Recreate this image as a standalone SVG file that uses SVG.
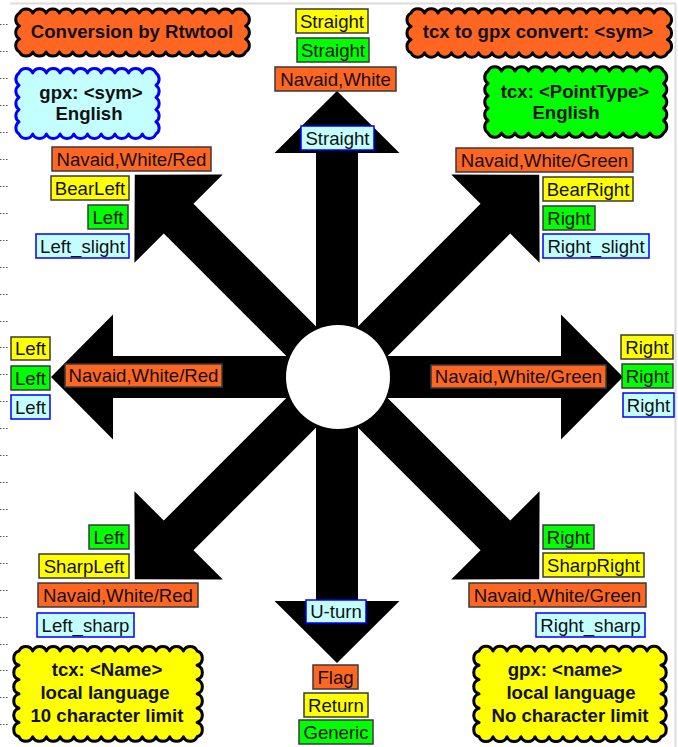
<svg xmlns="http://www.w3.org/2000/svg" width="678" height="747" viewBox="0 0 678 747">
<style>
.bx{stroke:#3a3a3a;stroke-width:1.5}
.o{fill:#FF6622}
.y{fill:#FFFF00}
.g{fill:#00FF00}
.c{fill:#C4FFFF;stroke:#0000FF}
.t{font-family:"Liberation Sans",Arial,sans-serif;font-size:18.6px;text-anchor:middle;fill:#111}
.ct{font-family:"Liberation Sans",Arial,sans-serif;font-size:18.6px;font-weight:bold;text-anchor:middle;fill:#111}
.cl{stroke:#000;stroke-width:3;stroke-linejoin:round}
</style>
<defs>
<path id="arr" d="M-21,0V-224H-62.5L0,-286L62.5,-224H21V0Z" fill="#000"/>
</defs>
<rect width="678" height="747" fill="#fff"/>
<g id="frame" fill="none">
<path d="M10,3.5H675.5V747" stroke="#dcdcdc" stroke-width="2"/>
<path d="M0,24.5H9M0,51.5H9M0,78.5H9M0,105.5H9M0,132.5H9M0,159.5H9M0,186.5H9M0,213.5H9M0,240.5H9M0,267.5H9M0,294.5H9M0,321.5H9M0,347.5H9M0,374.5H9M0,401.5H9M0,428.5H9M0,455.5H9M0,482.5H9M0,509.5H9M0,536.5H9M0,563.5H9M0,590.5H9M0,617.5H9M0,644.5H9M0,670.5H9M0,697.5H9M0,724.5H9" stroke="#555" stroke-width="1" stroke-dasharray="1.5 1.5"/>
</g>
<g id="connectors">
<use href="#arr" transform="translate(337,377)"/>
<use href="#arr" transform="translate(337,377) rotate(45)"/>
<use href="#arr" transform="translate(337,377) rotate(90)"/>
<use href="#arr" transform="translate(337,377) rotate(135)"/>
<use href="#arr" transform="translate(337,377) rotate(180)"/>
<use href="#arr" transform="translate(337,377) rotate(225)"/>
<use href="#arr" transform="translate(337,377) rotate(270)"/>
<use href="#arr" transform="translate(337,377) rotate(315)"/>
</g>
<g id="hub"><circle cx="338" cy="377" r="52" fill="#fff"/></g>

<g id="cloud-conversion">
<path class="cl" fill="#FF6622" d="M19.5,13a7.5 7.5 0 0 1 13.3 0a7.5 7.5 0 0 1 13.3 0a7.5 7.5 0 0 1 13.3 0a7.5 7.5 0 0 1 13.3 0a7.5 7.5 0 0 1 13.3 0a7.5 7.5 0 0 1 13.3 0a7.5 7.5 0 0 1 13.3 0a7.5 7.5 0 0 1 13.3 0a7.5 7.5 0 0 1 13.3 0a7.5 7.5 0 0 1 13.3 0a7.5 7.5 0 0 1 13.3 0a7.5 7.5 0 0 1 13.3 0a7.5 7.5 0 0 1 13.3 0a7.5 7.5 0 0 1 13.3 0a7.5 7.5 0 0 1 13.3 0a7.5 7.5 0 0 1 13.3 0a7.5 7.5 0 0 1 13.3 0a7.5 7.5 0 0 1 0 13a7.5 7.5 0 0 1 0 13a7.5 7.5 0 0 1 0 13a7.5 7.5 0 0 1 -13.3 0a7.5 7.5 0 0 1 -13.3 0a7.5 7.5 0 0 1 -13.3 0a7.5 7.5 0 0 1 -13.3 0a7.5 7.5 0 0 1 -13.3 0a7.5 7.5 0 0 1 -13.3 0a7.5 7.5 0 0 1 -13.3 0a7.5 7.5 0 0 1 -13.3 0a7.5 7.5 0 0 1 -13.3 0a7.5 7.5 0 0 1 -13.3 0a7.5 7.5 0 0 1 -13.3 0a7.5 7.5 0 0 1 -13.3 0a7.5 7.5 0 0 1 -13.3 0a7.5 7.5 0 0 1 -13.3 0a7.5 7.5 0 0 1 -13.3 0a7.5 7.5 0 0 1 -13.3 0a7.5 7.5 0 0 1 -13.3 0a7.5 7.5 0 0 1 0 -13a7.5 7.5 0 0 1 0 -13a7.5 7.5 0 0 1 0 -13Z"/>
<text class="ct" x="132" y="38">Conversion by Rtwtool</text>
</g>

<g id="cloud-gpx-sym">
<path class="cl" fill="#C4FFFF" style="stroke:#0000FF" d="M19,73a7.5 7.5 0 0 1 13.7 0a7.5 7.5 0 0 1 13.7 0a7.5 7.5 0 0 1 13.7 0a7.5 7.5 0 0 1 13.7 0a7.5 7.5 0 0 1 13.7 0a7.5 7.5 0 0 1 13.7 0a7.5 7.5 0 0 1 13.7 0a7.5 7.5 0 0 1 13.7 0a7.5 7.5 0 0 1 13.7 0a7.5 7.5 0 0 1 13.7 0a7.5 7.5 0 0 1 0 12.2a7.5 7.5 0 0 1 0 12.2a7.5 7.5 0 0 1 0 12.2a7.5 7.5 0 0 1 0 12.2a7.5 7.5 0 0 1 0 12.2a7.5 7.5 0 0 1 -13.7 0a7.5 7.5 0 0 1 -13.7 0a7.5 7.5 0 0 1 -13.7 0a7.5 7.5 0 0 1 -13.7 0a7.5 7.5 0 0 1 -13.7 0a7.5 7.5 0 0 1 -13.7 0a7.5 7.5 0 0 1 -13.7 0a7.5 7.5 0 0 1 -13.7 0a7.5 7.5 0 0 1 -13.7 0a7.5 7.5 0 0 1 -13.7 0a7.5 7.5 0 0 1 0 -12.2a7.5 7.5 0 0 1 0 -12.2a7.5 7.5 0 0 1 0 -12.2a7.5 7.5 0 0 1 0 -12.2a7.5 7.5 0 0 1 0 -12.2Z"/>
<text class="ct" x="91" y="99">gpx: &lt;sym&gt;</text>
<text class="ct" x="89" y="120">English</text>
</g>

<g id="cloud-tcx-to-gpx">
<path class="cl" fill="#FF6622" d="M411,13a7.5 7.5 0 0 1 13.5 0a7.5 7.5 0 0 1 13.5 0a7.5 7.5 0 0 1 13.5 0a7.5 7.5 0 0 1 13.5 0a7.5 7.5 0 0 1 13.5 0a7.5 7.5 0 0 1 13.5 0a7.5 7.5 0 0 1 13.5 0a7.5 7.5 0 0 1 13.5 0a7.5 7.5 0 0 1 13.5 0a7.5 7.5 0 0 1 13.5 0a7.5 7.5 0 0 1 13.5 0a7.5 7.5 0 0 1 13.5 0a7.5 7.5 0 0 1 13.5 0a7.5 7.5 0 0 1 13.5 0a7.5 7.5 0 0 1 13.5 0a7.5 7.5 0 0 1 13.5 0a7.5 7.5 0 0 1 13.5 0a7.5 7.5 0 0 1 13.5 0a7.5 7.5 0 0 1 13.5 0a7.5 7.5 0 0 1 0 13.3a7.5 7.5 0 0 1 0 13.3a7.5 7.5 0 0 1 0 13.3a7.5 7.5 0 0 1 -13.5 0a7.5 7.5 0 0 1 -13.5 0a7.5 7.5 0 0 1 -13.5 0a7.5 7.5 0 0 1 -13.5 0a7.5 7.5 0 0 1 -13.5 0a7.5 7.5 0 0 1 -13.5 0a7.5 7.5 0 0 1 -13.5 0a7.5 7.5 0 0 1 -13.5 0a7.5 7.5 0 0 1 -13.5 0a7.5 7.5 0 0 1 -13.5 0a7.5 7.5 0 0 1 -13.5 0a7.5 7.5 0 0 1 -13.5 0a7.5 7.5 0 0 1 -13.5 0a7.5 7.5 0 0 1 -13.5 0a7.5 7.5 0 0 1 -13.5 0a7.5 7.5 0 0 1 -13.5 0a7.5 7.5 0 0 1 -13.5 0a7.5 7.5 0 0 1 -13.5 0a7.5 7.5 0 0 1 -13.5 0a7.5 7.5 0 0 1 0 -13.3a7.5 7.5 0 0 1 0 -13.3a7.5 7.5 0 0 1 0 -13.3Z"/>
<text class="ct" x="538" y="38">tcx to gpx convert: &lt;sym&gt;</text>
</g>

<g id="cloud-tcx-pointtype">
<path class="cl" fill="#00FF00" d="M488,71a7.5 7.5 0 0 1 13.5 0a7.5 7.5 0 0 1 13.5 0a7.5 7.5 0 0 1 13.5 0a7.5 7.5 0 0 1 13.5 0a7.5 7.5 0 0 1 13.5 0a7.5 7.5 0 0 1 13.5 0a7.5 7.5 0 0 1 13.5 0a7.5 7.5 0 0 1 13.5 0a7.5 7.5 0 0 1 13.5 0a7.5 7.5 0 0 1 13.5 0a7.5 7.5 0 0 1 13.5 0a7.5 7.5 0 0 1 13.5 0a7.5 7.5 0 0 1 13.5 0a7.5 7.5 0 0 1 0 12.4a7.5 7.5 0 0 1 0 12.4a7.5 7.5 0 0 1 0 12.4a7.5 7.5 0 0 1 0 12.4a7.5 7.5 0 0 1 0 12.4a7.5 7.5 0 0 1 -13.5 0a7.5 7.5 0 0 1 -13.5 0a7.5 7.5 0 0 1 -13.5 0a7.5 7.5 0 0 1 -13.5 0a7.5 7.5 0 0 1 -13.5 0a7.5 7.5 0 0 1 -13.5 0a7.5 7.5 0 0 1 -13.5 0a7.5 7.5 0 0 1 -13.5 0a7.5 7.5 0 0 1 -13.5 0a7.5 7.5 0 0 1 -13.5 0a7.5 7.5 0 0 1 -13.5 0a7.5 7.5 0 0 1 -13.5 0a7.5 7.5 0 0 1 -13.5 0a7.5 7.5 0 0 1 0 -12.4a7.5 7.5 0 0 1 0 -12.4a7.5 7.5 0 0 1 0 -12.4a7.5 7.5 0 0 1 0 -12.4a7.5 7.5 0 0 1 0 -12.4Z"/>
<text class="ct" x="575" y="98">tcx: &lt;PointType&gt;</text>
<text class="ct" x="566" y="119">English</text>
</g>

<g id="cloud-tcx-name">
<path class="cl" fill="#FFFF00" d="M19,651a7.5 7.5 0 0 1 13.7 0a7.5 7.5 0 0 1 13.7 0a7.5 7.5 0 0 1 13.7 0a7.5 7.5 0 0 1 13.7 0a7.5 7.5 0 0 1 13.7 0a7.5 7.5 0 0 1 13.7 0a7.5 7.5 0 0 1 13.7 0a7.5 7.5 0 0 1 13.7 0a7.5 7.5 0 0 1 13.7 0a7.5 7.5 0 0 1 13.7 0a7.5 7.5 0 0 1 13.7 0a7.5 7.5 0 0 1 13.7 0a7.5 7.5 0 0 1 13.7 0a7.5 7.5 0 0 1 0 14.3a7.5 7.5 0 0 1 0 14.3a7.5 7.5 0 0 1 0 14.3a7.5 7.5 0 0 1 0 14.3a7.5 7.5 0 0 1 0 14.3a7.5 7.5 0 0 1 0 14.3a7.5 7.5 0 0 1 -13.7 0a7.5 7.5 0 0 1 -13.7 0a7.5 7.5 0 0 1 -13.7 0a7.5 7.5 0 0 1 -13.7 0a7.5 7.5 0 0 1 -13.7 0a7.5 7.5 0 0 1 -13.7 0a7.5 7.5 0 0 1 -13.7 0a7.5 7.5 0 0 1 -13.7 0a7.5 7.5 0 0 1 -13.7 0a7.5 7.5 0 0 1 -13.7 0a7.5 7.5 0 0 1 -13.7 0a7.5 7.5 0 0 1 -13.7 0a7.5 7.5 0 0 1 -13.7 0a7.5 7.5 0 0 1 0 -14.3a7.5 7.5 0 0 1 0 -14.3a7.5 7.5 0 0 1 0 -14.3a7.5 7.5 0 0 1 0 -14.3a7.5 7.5 0 0 1 0 -14.3a7.5 7.5 0 0 1 0 -14.3Z"/>
<text class="ct" x="107" y="676">tcx: &lt;Name&gt;</text>
<text class="ct" x="105" y="699">local language</text>
<text class="ct" x="107" y="722">10 character limit</text>
</g>

<g id="cloud-gpx-name">
<path class="cl" fill="#FFFF00" d="M479,651a7.5 7.5 0 0 1 14 0a7.5 7.5 0 0 1 14 0a7.5 7.5 0 0 1 14 0a7.5 7.5 0 0 1 14 0a7.5 7.5 0 0 1 14 0a7.5 7.5 0 0 1 14 0a7.5 7.5 0 0 1 14 0a7.5 7.5 0 0 1 14 0a7.5 7.5 0 0 1 14 0a7.5 7.5 0 0 1 14 0a7.5 7.5 0 0 1 14 0a7.5 7.5 0 0 1 14 0a7.5 7.5 0 0 1 14 0a7.5 7.5 0 0 1 0 14.3a7.5 7.5 0 0 1 0 14.3a7.5 7.5 0 0 1 0 14.3a7.5 7.5 0 0 1 0 14.3a7.5 7.5 0 0 1 0 14.3a7.5 7.5 0 0 1 0 14.3a7.5 7.5 0 0 1 -14 0a7.5 7.5 0 0 1 -14 0a7.5 7.5 0 0 1 -14 0a7.5 7.5 0 0 1 -14 0a7.5 7.5 0 0 1 -14 0a7.5 7.5 0 0 1 -14 0a7.5 7.5 0 0 1 -14 0a7.5 7.5 0 0 1 -14 0a7.5 7.5 0 0 1 -14 0a7.5 7.5 0 0 1 -14 0a7.5 7.5 0 0 1 -14 0a7.5 7.5 0 0 1 -14 0a7.5 7.5 0 0 1 -14 0a7.5 7.5 0 0 1 0 -14.3a7.5 7.5 0 0 1 0 -14.3a7.5 7.5 0 0 1 0 -14.3a7.5 7.5 0 0 1 0 -14.3a7.5 7.5 0 0 1 0 -14.3a7.5 7.5 0 0 1 0 -14.3Z"/>
<text class="ct" x="565" y="676">gpx: &lt;name&gt;</text>
<text class="ct" x="571" y="699">local language</text>
<text class="ct" x="570" y="722">No character limit</text>
</g>

<g id="n-up-y"><rect class="bx y" x="296" y="9" width="72" height="24"/><text class="t" x="332" y="27.5">Straight</text></g>
<g id="n-up-g"><rect class="bx g" x="297" y="38" width="72" height="24"/><text class="t" x="333" y="56.5">Straight</text></g>
<g id="n-up-o"><rect class="bx o" x="275" y="67" width="121" height="24"/><text class="t" x="335.5" y="85.5">Navaid,White</text></g>
<g id="n-up-c"><rect class="bx c" x="301" y="126" width="73" height="24"/><text class="t" x="337.5" y="144.5">Straight</text></g>

<g id="n-nw-o"><rect class="bx o" x="52" y="147" width="159" height="24"/><text class="t" x="131.5" y="165.5">Navaid,White/Red</text></g>
<g id="n-nw-y"><rect class="bx y" x="51" y="176" width="78" height="24"/><text class="t" x="90" y="194.5">BearLeft</text></g>
<g id="n-nw-g"><rect class="bx g" x="88" y="205" width="40" height="24"/><text class="t" x="108" y="223.5">Left</text></g>
<g id="n-nw-c"><rect class="bx c" x="36" y="234" width="93" height="24"/><text class="t" x="82.5" y="252.5">Left_slight</text></g>

<g id="n-ne-o"><rect class="bx o" x="456" y="148" width="177" height="24"/><text class="t" x="544.5" y="166.5">Navaid,White/Green</text></g>
<g id="n-ne-y"><rect class="bx y" x="543" y="177" width="90" height="24"/><text class="t" x="588" y="195.5">BearRight</text></g>
<g id="n-ne-g"><rect class="bx g" x="543" y="206" width="52" height="24"/><text class="t" x="569" y="224.5">Right</text></g>
<g id="n-ne-c"><rect class="bx c" x="543" y="234" width="106" height="24"/><text class="t" x="596" y="252.5">Right_slight</text></g>

<g id="n-w-y"><rect class="bx y" x="11" y="337" width="39" height="23"/><text class="t" x="30.5" y="355">Left</text></g>
<g id="n-w-g"><rect class="bx g" x="11" y="366" width="39" height="24"/><text class="t" x="30.5" y="384.5">Left</text></g>
<g id="n-w-c"><rect class="bx c" x="11" y="395" width="39" height="24"/><text class="t" x="30.5" y="413.5">Left</text></g>
<g id="n-w-o"><rect class="bx o" x="65" y="364" width="157" height="23"/><text class="t" x="143.5" y="382">Navaid,White/Red</text></g>

<g id="n-e-y"><rect class="bx y" x="621" y="335" width="52" height="24"/><text class="t" x="647" y="353.5">Right</text></g>
<g id="n-e-g"><rect class="bx g" x="622" y="364" width="51" height="24"/><text class="t" x="647.5" y="382.5">Right</text></g>
<g id="n-e-c"><rect class="bx c" x="623" y="393" width="51" height="24"/><text class="t" x="648.5" y="411.5">Right</text></g>
<g id="n-e-o"><rect class="bx o" x="431" y="365" width="175" height="23"/><text class="t" x="518.5" y="383">Navaid,White/Green</text></g>

<g id="n-sw-g"><rect class="bx g" x="89" y="525" width="40" height="24"/><text class="t" x="109" y="543.5">Left</text></g>
<g id="n-sw-y"><rect class="bx y" x="39" y="554" width="90" height="24"/><text class="t" x="84" y="572.5">SharpLeft</text></g>
<g id="n-sw-o"><rect class="bx o" x="38" y="583" width="160" height="24"/><text class="t" x="118" y="601.5">Navaid,White/Red</text></g>
<g id="n-sw-c"><rect class="bx c" x="37" y="613" width="97" height="24"/><text class="t" x="85.5" y="631.5">Left_sharp</text></g>

<g id="n-se-g"><rect class="bx g" x="543" y="525" width="51" height="24"/><text class="t" x="568.5" y="543.5">Right</text></g>
<g id="n-se-y"><rect class="bx y" x="543" y="553" width="101" height="24"/><text class="t" x="593.5" y="571.5">SharpRight</text></g>
<g id="n-se-o"><rect class="bx o" x="469" y="583" width="177" height="24"/><text class="t" x="557.5" y="601.5">Navaid,White/Green</text></g>
<g id="n-se-c"><rect class="bx c" x="536" y="613" width="109" height="24"/><text class="t" x="590.5" y="631.5">Right_sharp</text></g>

<g id="n-s-c"><rect class="bx c" x="306" y="600" width="60" height="23"/><text class="t" x="336" y="618">U-turn</text></g>
<g id="n-s-o"><rect class="bx o" x="313" y="665" width="45" height="24"/><text class="t" x="335.5" y="683.5">Flag</text></g>
<g id="n-s-y"><rect class="bx y" x="304" y="693" width="64" height="24"/><text class="t" x="336" y="711.5">Return</text></g>
<g id="n-s-g"><rect class="bx g" x="299" y="720" width="74" height="24"/><text class="t" x="336" y="738.5">Generic</text></g>
</svg>
